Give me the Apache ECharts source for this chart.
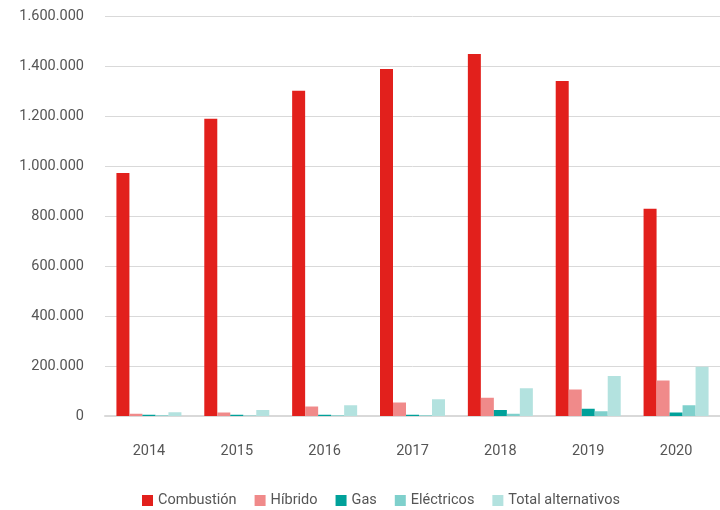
<!DOCTYPE html>
<html>
<head>
<meta charset="utf-8">
<script src="https://cdn.jsdelivr.net/npm/echarts@6/dist/echarts.min.js"></script>
<style>html,body{margin:0;padding:0;background:#fff;}#c{width:720px;height:510px;}</style>
</head>
<body>
<div id="c"></div>
<script>
var years = ['2014','2015','2016','2017','2018','2019','2020'];
var combustion = [972000, 1189000, 1301000, 1388000, 1448000, 1340000, 829000];
var hibrido = [9000, 14000, 38000, 54000, 73000, 106000, 142000];
var gas = [5000, 5000, 5000, 5000, 24000, 29000, 14000];
var electricos = [3000, 2000, 3000, 3000, 9000, 19000, 43000];
var totalAlt = [15000, 24000, 43000, 67000, 111000, 160000, 197000];
var seriesNames = ['Combustión','Híbrido','Gas','Eléctricos','Total alternativos'];
var colors = ['#E2201C','#F08A8A','#00A19A','#7FD0CC','#B3E2DF'];

var FONT = 'Roboto, sans-serif';
function fmt(v){ return String(v).replace(/\B(?=(\d{3})+(?!\d))/g, '.'); }

var chart = echarts.init(document.getElementById('c'), null, {renderer:'canvas'});
var dataSets = [combustion, hibrido, gas, electricos, totalAlt];
chart.setOption({
  animation:false,
  color: colors,
  textStyle:{fontFamily:FONT},
  grid:{left:105, top:16, width:620, height:400, containLabel:false},
  legend:{
    left:137, top:488, itemWidth:11, itemHeight:11, itemGap:18,
    icon:'rect',
    textStyle:{fontFamily:FONT, fontSize:14.5, color:'#555555'},
    data: seriesNames
  },
  xAxis:{
    type:'category', data:years,
    axisLine:{lineStyle:{color:'#d9d9d9', width:2}},
    axisTick:{show:false},
    axisLabel:{color:'#555555', fontSize:14.5, fontFamily:FONT, margin:28}
  },
  yAxis:{
    type:'value', min:0, max:1600000, interval:200000,
    axisLine:{show:false}, axisTick:{show:false},
    splitLine:{lineStyle:{color:'#d9d9d9', width:1}},
    axisLabel:{color:'#555555', fontSize:14.5, fontFamily:FONT, margin:21, formatter:fmt}
  },
  series: seriesNames.map(function(n,i){
    return {name:n, type:'bar', data:dataSets[i], barWidth:13, barGap:'0%'};
  })
});
</script>
</body>
</html>
